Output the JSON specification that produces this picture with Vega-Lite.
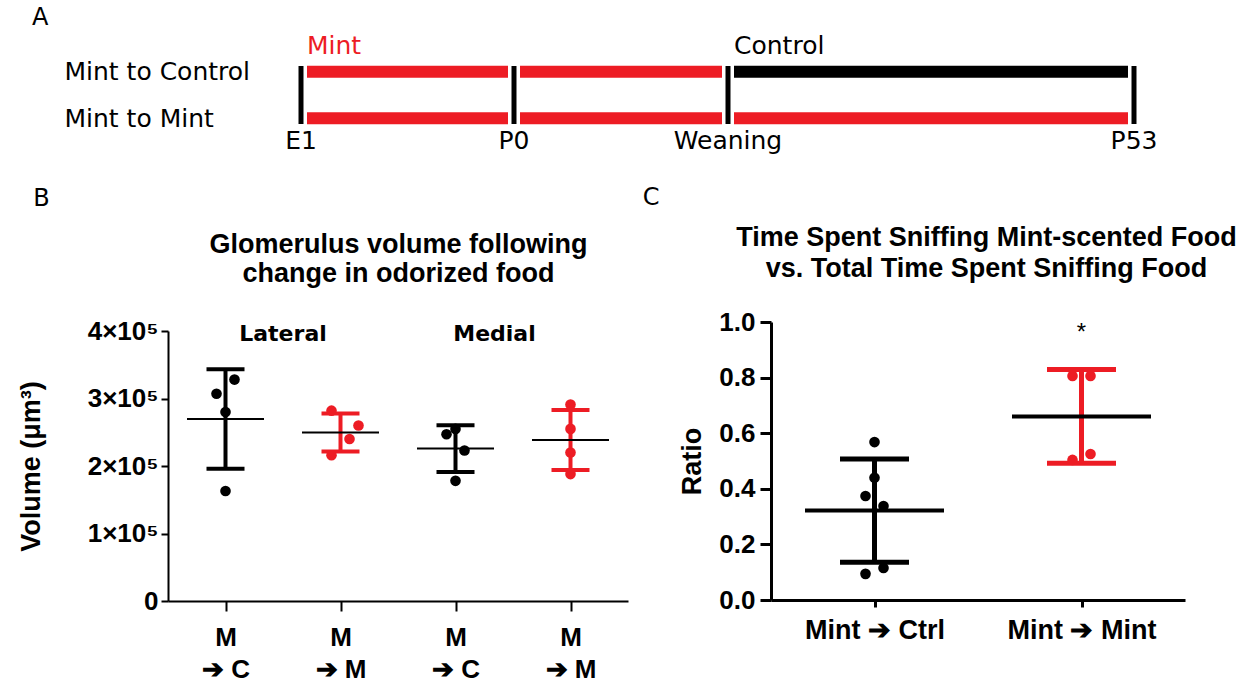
{
  "$schema": "https://vega.github.io/schema/vega-lite/v6.json",
  "background": "white",
  "padding": {"left": 17, "top": 5, "right": 5, "bottom": 5},
  "bounds": "flush",
  "spacing": 198,
  "config": {
    "view": {"stroke": null},
    "font": "Liberation Sans",
    "axis": {"grid": false, "domainColor": "#000", "tickColor": "#000", "labelColor": "#000", "titleColor": "#000", "labelFont": "Liberation Sans", "titleFont": "Liberation Sans"},
    "title": {"font": "DejaVu Sans", "fontSize": 24, "fontWeight": "normal", "color": "#000", "anchor": "start", "frame": "bounds", "baseline": "alphabetic"}
  },
  "vconcat": [
    {
      "title": {"text": "A", "dx": -32, "offset": 4},
      "width": 970,
      "height": 58,
      "layer": [
        {
          "data": {"values": [
            {"row": "Mint to Control", "diet": "Mint", "from": -19, "to": 0},
            {"row": "Mint to Control", "diet": "Mint", "from": 0, "to": 21},
            {"row": "Mint to Control", "diet": "Control", "from": 21, "to": 53},
            {"row": "Mint to Mint", "diet": "Mint", "from": -19, "to": 0},
            {"row": "Mint to Mint", "diet": "Mint", "from": 0, "to": 21},
            {"row": "Mint to Mint", "diet": "Mint", "from": 21, "to": 53}
          ]},
          "mark": {"type": "bar", "size": 12, "xOffset": 6, "x2Offset": -6},
          "encoding": {
            "x": {"field": "from", "type": "quantitative", "scale": {"domain": [-19, 0, 21, 53], "range": [133, 346, 560, 966], "nice": false, "zero": false}, "axis": null},
            "x2": {"field": "to"},
            "y": {"field": "row", "type": "nominal", "title": null, "scale": {"type": "point", "padding": 0.125, "domain": ["Mint to Control", "Mint to Mint"]},
                  "axis": {"title": null, "domain": false, "ticks": false, "tickSize": 0, "labelAlign": "left", "labelPadding": 104, "labelFont": "DejaVu Sans", "labelFontSize": 25, "labelLimit": 0, "labelBaseline": "middle", "labelOffset": 0}},
            "color": {"field": "diet", "type": "nominal", "scale": {"domain": ["Mint", "Control"], "range": ["#ED1C24", "#000000"]}, "legend": null}
          }
        },
        {
          "data": {"values": [
            {"event": "E1", "day": -19, "row": "Mint to Mint"},
            {"event": "P0", "day": 0, "row": "Mint to Mint"},
            {"event": "Weaning", "day": 21, "row": "Mint to Mint"},
            {"event": "P53", "day": 53, "row": "Mint to Mint"}
          ]},
          "layer": [
            {"mark": {"type": "rule", "strokeWidth": 5, "color": "#000"},
             "encoding": {"x": {"field": "day", "type": "quantitative", "scale": {"domain": [-19, 0, 21, 53], "range": [133, 346, 560, 966], "nice": false, "zero": false}, "axis": null}}},
            {"mark": {"type": "text", "font": "DejaVu Sans", "fontSize": 25, "baseline": "alphabetic", "dy": 31, "color": "#000"},
             "encoding": {"x": {"field": "day", "type": "quantitative", "scale": {"domain": [-19, 0, 21, 53], "range": [133, 346, 560, 966], "nice": false, "zero": false}, "axis": null}, "y": {"field": "row", "type": "nominal", "title": null}, "text": {"field": "event"}}}
          ]
        },
        {
          "data": {"values": [
            {"phase": "Mint", "diet": "Mint", "day": -19, "row": "Mint to Control"},
            {"phase": "Control", "diet": "Control", "day": 21, "row": "Mint to Control"}
          ]},
          "mark": {"type": "text", "font": "DejaVu Sans", "fontSize": 25, "align": "left", "baseline": "alphabetic", "dx": 6, "dy": -18},
          "encoding": {
            "x": {"field": "day", "type": "quantitative", "scale": {"domain": [-19, 0, 21, 53], "range": [133, 346, 560, 966], "nice": false, "zero": false}, "axis": null},
            "y": {"field": "row", "type": "nominal", "title": null},
            "text": {"field": "phase"},
            "color": {"field": "diet", "type": "nominal", "scale": {"domain": ["Mint", "Control"], "range": ["#ED1C24", "#000000"]}, "legend": null}
          }
        }
      ]
    },
    {
      "spacing": 143,
      "bounds": "flush",
      "hconcat": [
        {
          "title": {"text": "B", "dx": 16, "offset": 19},
          "width": 460,
          "height": 279,
          "data": {"values": [
            {"region": "Lateral", "group": "L M➔C", "diet": "Control", "volume": 328000, "jitter": 1},
            {"region": "Lateral", "group": "L M➔C", "diet": "Control", "volume": 307000, "jitter": -1},
            {"region": "Lateral", "group": "L M➔C", "diet": "Control", "volume": 280000, "jitter": 0},
            {"region": "Lateral", "group": "L M➔C", "diet": "Control", "volume": 163000, "jitter": 0},
            {"region": "Lateral", "group": "L M➔M", "diet": "Mint", "volume": 282000, "jitter": -1},
            {"region": "Lateral", "group": "L M➔M", "diet": "Mint", "volume": 260000, "jitter": 2},
            {"region": "Lateral", "group": "L M➔M", "diet": "Mint", "volume": 240000, "jitter": 1},
            {"region": "Lateral", "group": "L M➔M", "diet": "Mint", "volume": 216000, "jitter": -1},
            {"region": "Medial", "group": "M M➔C", "diet": "Control", "volume": 255000, "jitter": 0},
            {"region": "Medial", "group": "M M➔C", "diet": "Control", "volume": 247000, "jitter": -1},
            {"region": "Medial", "group": "M M➔C", "diet": "Control", "volume": 223000, "jitter": 1},
            {"region": "Medial", "group": "M M➔C", "diet": "Control", "volume": 178000, "jitter": 0},
            {"region": "Medial", "group": "M M➔M", "diet": "Mint", "volume": 291000, "jitter": 0},
            {"region": "Medial", "group": "M M➔M", "diet": "Mint", "volume": 255000, "jitter": 0},
            {"region": "Medial", "group": "M M➔M", "diet": "Mint", "volume": 220000, "jitter": 0},
            {"region": "Medial", "group": "M M➔M", "diet": "Mint", "volume": 188000, "jitter": 0}
          ]},
          "resolve": {"axis": {"x": "independent"}},
          "layer": [
            {
              "mark": {"type": "circle", "size": 113, "opacity": 1},
              "encoding": {
                "x": {"field": "group", "type": "nominal", "scale": {"type": "point", "padding": 0.5, "domain": ["L M➔C", "L M➔M", "M M➔C", "M M➔M"]},
                      "axis": {"orient": "bottom", "title": null, "labelExpr": "['M', '➔ ' + slice(datum.label, -1)]", "labelAngle": 0, "labelFontSize": 26, "labelFontWeight": "bold", "labelLineHeight": 32, "labelBaseline": "top", "tickSize": 10, "tickWidth": 2, "domainWidth": 2, "labelPadding": 13}},
                "xOffset": {"field": "jitter", "type": "quantitative", "scale": {"domain": [-2, 2], "range": [-18, 18]}},
                "y": {"field": "volume", "type": "quantitative", "title": "Volume (μm³)", "scale": {"domain": [0, 400000], "range": [279, 9], "nice": false, "zero": true},
                      "axis": {"values": [0, 100000, 200000, 300000, 400000], "labelExpr": "datum.value == 0 ? '0' : format(datum.value / 100000, 'd') + '×10⁵'", "title": "Volume (μm³)", "titleFontSize": 27, "titleFontWeight": "bold", "labelFontSize": 26, "labelFontWeight": "bold", "tickSize": 7, "tickWidth": 2, "domainWidth": 2, "labelPadding": 3, "titlePadding": 42}},
                "color": {"field": "diet", "type": "nominal", "scale": {"domain": ["Mint", "Control"], "range": ["#ED1C24", "#000000"]}, "legend": null}
              }
            },
            {
              "mark": {"type": "errorbar", "extent": "stdev", "thickness": 4, "rule": {"opacity": 1}, "ticks": {"size": 38, "thickness": 4, "opacity": 1}},
              "encoding": {
                "x": {"field": "group", "type": "nominal", "axis": null},
                "y": {"field": "volume", "type": "quantitative", "title": "Volume (μm³)"},
                "color": {"field": "diet", "type": "nominal", "legend": null}
              }
            },
            {
              "mark": {"type": "tick", "size": 77, "thickness": 2, "color": "#000", "opacity": 1},
              "encoding": {
                "x": {"field": "group", "type": "nominal",
                      "axis": {"orient": "top", "domain": false, "ticks": false, "labels": false, "title": ["Glomerulus volume following", "change in odorized food"], "titleFontSize": 27, "titleFontWeight": "bold", "titleLineHeight": 29, "titlePadding": 35}},
                "y": {"aggregate": "mean", "field": "volume", "type": "quantitative", "title": "Volume (μm³)"}
              }
            },
            {
              "data": {"values": [{"region": "Lateral", "group": "L M➔C"}]},
              "mark": {"type": "text", "font": "DejaVu Sans", "fontWeight": "bold", "fontSize": 22, "dx": 57.5, "dy": 3, "baseline": "middle", "color": "#000"},
              "encoding": {"x": {"field": "group", "type": "nominal", "axis": null}, "y": {"datum": 400000, "type": "quantitative", "title": "Volume (μm³)"}, "text": {"field": "region"}}
            },
            {
              "data": {"values": [{"region": "Medial", "group": "M M➔C"}]},
              "mark": {"type": "text", "font": "DejaVu Sans", "fontWeight": "bold", "fontSize": 22, "dx": 39, "dy": 3, "baseline": "middle", "color": "#000"},
              "encoding": {"x": {"field": "group", "type": "nominal", "axis": null}, "y": {"datum": 400000, "type": "quantitative", "title": "Volume (μm³)"}, "text": {"field": "region"}}
            }
          ]
        },
        {
          "title": {"text": "C", "dx": -36, "offset": 13},
          "width": 414,
          "height": 278,
          "data": {"values": [
            {"group": "Mint ➔ Ctrl", "diet": "Control", "ratio": 0.568, "jitter": 0},
            {"group": "Mint ➔ Ctrl", "diet": "Control", "ratio": 0.44, "jitter": 0},
            {"group": "Mint ➔ Ctrl", "diet": "Control", "ratio": 0.374, "jitter": -1},
            {"group": "Mint ➔ Ctrl", "diet": "Control", "ratio": 0.338, "jitter": 1},
            {"group": "Mint ➔ Ctrl", "diet": "Control", "ratio": 0.115, "jitter": 1},
            {"group": "Mint ➔ Ctrl", "diet": "Control", "ratio": 0.094, "jitter": -1},
            {"group": "Mint ➔ Mint", "diet": "Mint", "ratio": 0.806, "jitter": -1},
            {"group": "Mint ➔ Mint", "diet": "Mint", "ratio": 0.806, "jitter": 1},
            {"group": "Mint ➔ Mint", "diet": "Mint", "ratio": 0.504, "jitter": -1},
            {"group": "Mint ➔ Mint", "diet": "Mint", "ratio": 0.525, "jitter": 1}
          ]},
          "resolve": {"axis": {"x": "independent"}},
          "layer": [
            {
              "mark": {"type": "circle", "size": 113, "opacity": 1},
              "encoding": {
                "x": {"field": "group", "type": "nominal", "scale": {"type": "point", "padding": 0.5, "domain": ["Mint ➔ Ctrl", "Mint ➔ Mint"]},
                      "axis": {"orient": "bottom", "title": null, "labelAngle": 0, "labelFontSize": 27, "labelFontWeight": "bold", "labelBaseline": "top", "tickSize": 7, "tickWidth": 3, "domainWidth": 3, "labelPadding": 10}},
                "xOffset": {"field": "jitter", "type": "quantitative", "scale": {"domain": [-1, 1], "range": [-8, 8]}},
                "y": {"field": "ratio", "type": "quantitative", "title": "Ratio", "scale": {"domain": [0, 1], "nice": false},
                      "axis": {"values": [0, 0.2, 0.4, 0.6, 0.8, 1.0], "format": ".1f", "title": "Ratio", "titleFontSize": 27, "titleFontWeight": "bold", "labelFontSize": 26, "labelFontWeight": "bold", "tickSize": 11, "tickWidth": 3, "domainWidth": 3, "labelPadding": 5, "titlePadding": 12}},
                "color": {"field": "diet", "type": "nominal", "scale": {"domain": ["Mint", "Control"], "range": ["#ED1C24", "#000000"]}, "legend": null}
              }
            },
            {
              "mark": {"type": "errorbar", "extent": "stdev", "thickness": 5, "rule": {"opacity": 1}, "ticks": {"size": 69, "thickness": 5, "opacity": 1}},
              "encoding": {
                "x": {"field": "group", "type": "nominal", "axis": null},
                "y": {"field": "ratio", "type": "quantitative", "title": "Ratio"},
                "color": {"field": "diet", "type": "nominal", "legend": null}
              }
            },
            {
              "mark": {"type": "tick", "size": 139, "thickness": 4, "color": "#000", "opacity": 1},
              "encoding": {
                "x": {"field": "group", "type": "nominal",
                      "axis": {"orient": "top", "domain": false, "ticks": false, "labels": false, "title": ["Time Spent Sniffing Mint-scented Food", "vs. Total Time Spent Sniffing Food"], "titleX": 215, "titleFontSize": 27, "titleFontWeight": "bold", "titleLineHeight": 31, "titlePadding": 40}},
                "y": {"aggregate": "mean", "field": "ratio", "type": "quantitative", "title": "Ratio"}
              }
            },
            {
              "data": {"values": [{"group": "Mint ➔ Mint", "note": "*"}]},
              "mark": {"type": "text", "font": "Liberation Sans", "fontSize": 24, "baseline": "middle", "color": "#000"},
              "encoding": {"x": {"field": "group", "type": "nominal", "axis": null}, "y": {"datum": 0.96, "type": "quantitative", "title": "Ratio"}, "text": {"field": "note"}}
            }
          ]
        }
      ]
    }
  ]
}
